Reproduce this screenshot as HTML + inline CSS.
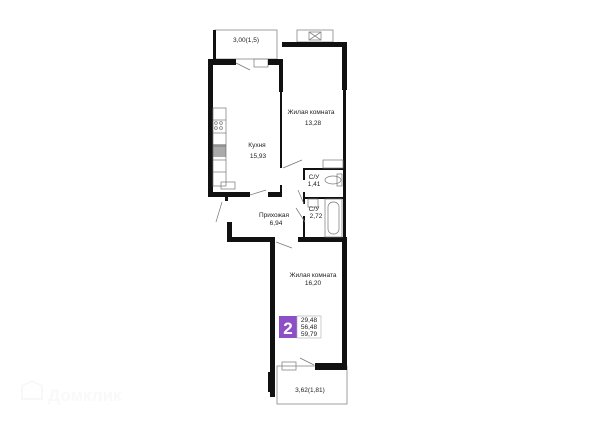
<!DOCTYPE html>
<html><head><meta charset="utf-8"><style>
html,body{margin:0;padding:0;background:#fff;width:600px;height:424px;overflow:hidden}
svg text{font-family:"Liberation Sans",sans-serif;fill:#222}
</style></head><body>
<svg width="600" height="424" viewBox="0 0 600 424" xmlns="http://www.w3.org/2000/svg">
<g fill="none" stroke="#888" stroke-width="0.8">
<rect x="215" y="30" width="62" height="29"/>
<rect x="297" y="30" width="36" height="12"/>
<rect x="309" y="32" width="12" height="8"/>
<path d="M309 32 L321 40 M321 32 L309 40"/>
<rect x="277" y="366" width="70" height="38"/>
<rect x="254" y="59" width="14" height="8"/>
<rect x="282" y="362" width="14" height="8"/>
</g>
<g fill="#111">
<rect x="213" y="30" width="3" height="30"/>
<rect x="208" y="59" width="28" height="6"/>
<rect x="208" y="59" width="5" height="138"/>
<rect x="268" y="59" width="14" height="6"/>
<rect x="279" y="59" width="4" height="33"/>
<rect x="280" y="92" width="2" height="76"/>
<rect x="208" y="192" width="42" height="5"/>
<rect x="268" y="192" width="14" height="5"/>
<rect x="280" y="185" width="2" height="10"/>
<rect x="225" y="193" width="3" height="8"/>
<rect x="282" y="42" width="65" height="5"/>
<rect x="342" y="42" width="5" height="48"/>
<rect x="343" y="90" width="3" height="152"/>
<rect x="305" y="168" width="38" height="2"/>
<rect x="303" y="168" width="2" height="12"/>
<rect x="303" y="192" width="2" height="12"/>
<rect x="303" y="197" width="40" height="2"/>
<rect x="303" y="216" width="2" height="24"/>
<rect x="227" y="222" width="5" height="20"/>
<rect x="227" y="237" width="47" height="5"/>
<rect x="298" y="237" width="49" height="5"/>
<rect x="270" y="237" width="5" height="160"/>
<rect x="342" y="237" width="5" height="129"/>
<rect x="315" y="363" width="32" height="7"/>
<rect x="268" y="372" width="5" height="20"/>
</g>
<g fill="none" stroke="#777" stroke-width="0.7">
<line x1="236" y1="63" x2="250" y2="70"/>
<line x1="283" y1="168" x2="302" y2="160"/>
<line x1="250" y1="195" x2="266" y2="190"/>
<line x1="222" y1="202" x2="216" y2="222"/>
<line x1="298" y1="190" x2="304" y2="204"/>
<line x1="296" y1="208" x2="305" y2="222"/>
<line x1="276" y1="242" x2="292" y2="248"/>
<line x1="300" y1="358" x2="314" y2="365"/>
<rect x="213" y="108" width="13" height="78"/>
<line x1="213" y1="120" x2="226" y2="120"/>
<line x1="213" y1="133" x2="226" y2="133"/>
<line x1="213" y1="146" x2="226" y2="146"/>
<line x1="213" y1="160" x2="226" y2="160"/>
<line x1="213" y1="172" x2="226" y2="172"/>
<circle cx="216" cy="123" r="1.4"/><circle cx="221" cy="123" r="1.4"/>
<circle cx="216" cy="128" r="1.4"/><circle cx="221" cy="128" r="1.4"/>
<rect x="221" y="182" width="14" height="7"/>
<rect x="323" y="160" width="20" height="8"/>
<ellipse cx="333" cy="180" rx="8" ry="4"/>
<rect x="337" y="174" width="5" height="12"/>
<rect x="308" y="199" width="10" height="8"/>
<rect x="325" y="199" width="17" height="38"/>
<rect x="328" y="202" width="11" height="32" rx="5"/>
</g>
<rect x="213" y="144" width="13" height="13" fill="#555" opacity="0.5"/>
<g font-size="6.5" text-anchor="middle">
<text x="246" y="42">3,00(1,5)</text>
<text x="311" y="114">Жилая комната</text>
<text x="313" y="125">13,28</text>
<text x="257" y="147">Кухня</text>
<text x="258" y="158">15,93</text>
<text x="314" y="179">С/У</text>
<text x="314" y="186">1,41</text>
<text x="314" y="211">С/У</text>
<text x="316" y="218">2,72</text>
<text x="274" y="217">Прихожая</text>
<text x="276" y="225">6,94</text>
<text x="313" y="277">Жилая комната</text>
<text x="313" y="285">16,20</text>
<text x="310" y="392">3,62(1,81)</text>
</g>
<rect x="279" y="316" width="18" height="22" fill="#8e4fc6"/>
<text x="288" y="334" font-size="17" font-weight="bold" text-anchor="middle" style="fill:#fff">2</text>
<rect x="297" y="316" width="24" height="22" fill="none" stroke="#aaa" stroke-width="0.6"/>
<g font-size="6.5" text-anchor="middle"><text x="309" y="322">29,48</text><text x="309" y="329">56,48</text><text x="309" y="336">59,79</text></g>
<text x="48" y="401" font-size="17" font-weight="bold" style="fill:#f9f9f9">Домклик</text>
<path d="M22 386 L32 381 L42 386 L42 399 L22 399 Z" fill="none" stroke="#f8f8f8" stroke-width="2"/>
</svg>
</body></html>
